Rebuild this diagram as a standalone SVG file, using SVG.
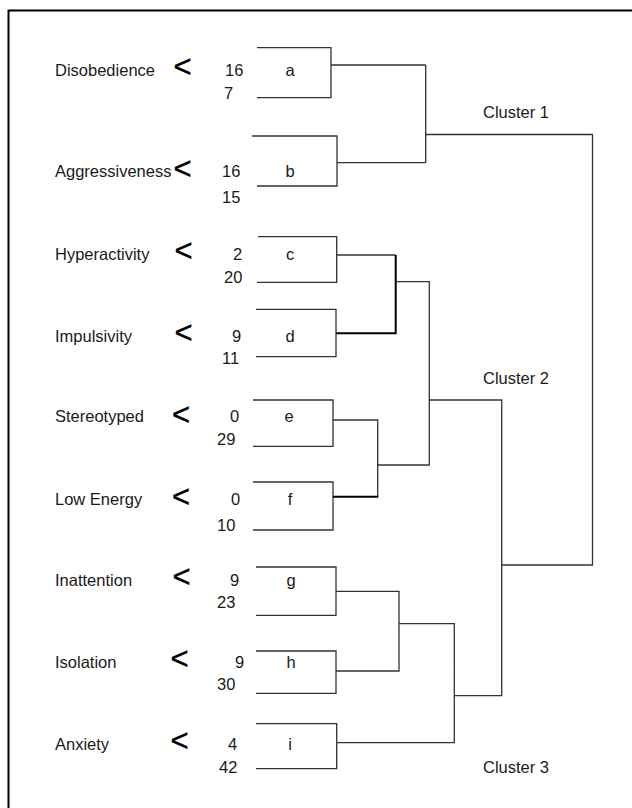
<svg xmlns="http://www.w3.org/2000/svg" width="632" height="808" viewBox="0 0 632 808">
<style>
text{font-family:"Liberation Sans",Arial,sans-serif;font-size:16.5px;fill:#1a1a1a}
.lt{font-size:31px;fill:#000;stroke:#000;stroke-width:0.4}
.mid{text-anchor:middle}
.br,.cn{fill:none;stroke:#333;stroke-width:1.3}
.thk{fill:none;stroke:#000;stroke-width:2}
.frame{fill:none;stroke:#000;stroke-width:2}
</style>
<rect width="632" height="808" fill="#fff"/>
<path class="frame" d="M8.5,820 V10.5 H640"/>

<g id="node-a">
<text x="55" y="76">Disobedience</text><text class="lt" x="173.5" y="77">&lt;</text>
<text x="225" y="76">16</text><text x="224" y="99">7</text><text class="mid" x="290" y="76">a</text>
<path class="br" d="M257,47.7 H331 V97.7 H257"/>
</g>
<g id="node-b">
<text x="55" y="176.5">Aggressiveness</text><text class="lt" x="173.5" y="179">&lt;</text>
<text x="222" y="176.5">16</text><text x="222" y="203">15</text><text class="mid" x="290" y="176.5">b</text>
<path class="br" d="M252,136 H337 V186 H257"/>
</g>
<g id="node-c">
<text x="55" y="259.5">Hyperactivity</text><text class="lt" x="174.5" y="261">&lt;</text>
<text x="233" y="260">2</text><text x="224" y="283">20</text><text class="mid" x="290" y="259.5">c</text>
<path class="br" d="M258,236.7 H336.7 V282.3 H257"/>
</g>
<g id="node-d">
<text x="55" y="341.5">Impulsivity</text><text class="lt" x="174.5" y="343">&lt;</text>
<text x="232" y="342">9</text><text x="222" y="364">11</text><text class="mid" x="290" y="341.5">d</text>
<path class="br" d="M256,309.3 H336 V356.7 H256"/>
</g>
<g id="node-e">
<text x="55" y="422">Stereotyped</text><text class="lt" x="172" y="425">&lt;</text>
<text x="230" y="422">0</text><text x="217" y="445">29</text><text class="mid" x="289" y="422">e</text>
<path class="br" d="M253,400 H333 V446.3 H253"/>
</g>
<g id="node-f">
<text x="55" y="505">Low Energy</text><text class="lt" x="172" y="507">&lt;</text>
<text x="231" y="505">0</text><text x="217" y="531">10</text><text class="mid" x="290" y="505">f</text>
<path class="br" d="M253,482 H333 V530 H253"/>
</g>
<g id="node-g">
<text x="55" y="585.5">Inattention</text><text class="lt" x="172.5" y="587">&lt;</text>
<text x="230" y="585.5">9</text><text x="217" y="608">23</text><text class="mid" x="291" y="585.5">g</text>
<path class="br" d="M256,567 H336 V615.3 H256"/>
</g>
<g id="node-h">
<text x="55" y="667.5">Isolation</text><text class="lt" x="170.5" y="669">&lt;</text>
<text x="235" y="667.5">9</text><text x="217" y="690">30</text><text class="mid" x="291" y="667.5">h</text>
<path class="br" d="M256,651 H336 V693.3 H256"/>
</g>
<g id="node-i">
<text x="55" y="749.5">Anxiety</text><text class="lt" x="170.5" y="751">&lt;</text>
<text x="228" y="749.5">4</text><text x="219" y="773">42</text><text class="mid" x="290" y="749.5">i</text>
<path class="br" d="M256,723.7 H336.7 V768.7 H256"/>
</g>

<g id="clusters">
<text x="483" y="118.3">Cluster 1</text>
<text x="483" y="384">Cluster 2</text>
<text x="483" y="773">Cluster 3</text>
</g>

<g id="connectors">
<path class="cn" d="M331,65 H425.7 M337,162.7 H425.7 M425.7,65 V162.7"/>
<path class="cn" d="M425.7,134.5 H592.5 V565 H501.7"/>
<path class="cn" d="M336.7,255 H395.7"/>
<path class="thk" d="M336,333.3 H395.7 V255"/>
<path class="cn" d="M395.7,281.7 H429.3 V465 H377.7"/>
<path class="cn" d="M333,420 H377.7 V496.7"/>
<path class="thk" d="M333,496.7 H378.2"/>
<path class="cn" d="M429.3,400 H501.7 V695.7 H454.3"/>
<path class="cn" d="M336,591.3 H399 V671 H336 M399,623.7 H454.3 V742.7 H336.7"/>
</g>
</svg>
